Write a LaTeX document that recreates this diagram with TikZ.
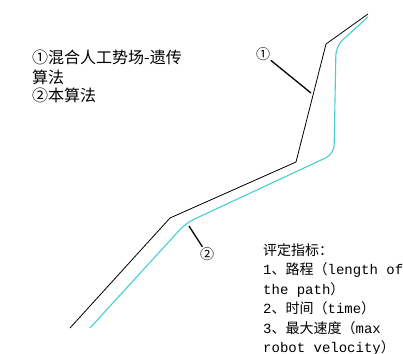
\documentclass[tikz,border=0pt]{standalone}
\usepackage{fontspec}
\newfontfamily\cjk{Noto Sans CJK SC}
\setmonofont{Liberation Mono}
\definecolor{pathcyan}{RGB}{70,208,205}
\begin{document}
\begin{tikzpicture}[x=1pt,y=-1pt,
  blackpath/.style={draw=black,line width=0.8pt,line join=round},
  cyanpath/.style={draw=pathcyan,line width=1.1pt,line join=round,rounded corners=9pt},
  leader/.style={draw=black,line width=1.3pt},
  numlabel/.style={font=\cjk\fontsize{14}{14}\selectfont,inner sep=0.5pt},
  lefttxt/.style={anchor=base west,inner sep=0,font=\cjk\fontsize{16}{19}\selectfont},
  righttxt/.style={anchor=base west,inner sep=0,font=\cjk\fontsize{14}{19}\selectfont}]
\useasboundingbox (0,0) rectangle (403,353);
% paths
\coordinate (b0) at (70,328);
\coordinate (b1) at (170,218);
\coordinate (b2) at (296,162);
\coordinate (b3) at (326,44);
\coordinate (b4) at (368,14);
\draw[blackpath] (b0) -- (b1) -- (b2) -- (b3) -- (b4);
\coordinate (c0) at (90,328);
\coordinate (c1) at (186,223);
\coordinate (c2) at (334,154);
\coordinate (c3) at (336,46);
\coordinate (c4) at (368,17);
\draw[cyanpath] (c0) -- (c1) -- (c2) -- (c3) -- (c4);
% labels
\node[numlabel] (n1) at (263,54) {①};
\node[numlabel] (n2) at (207,254) {②};
\coordinate (p1) at (311,93);
\coordinate (p2) at (189,226);
\draw[leader] (n1) -- (p1);
\draw[leader] (p2) -- (n2);
% left legend
\node[lefttxt] (l1) at (32,63) {①混合人工势场-遗传};
\node[lefttxt] (l2) at (32,83) {算法};
\node[lefttxt] (l3) at (32,101) {②本算法};
% right text
\node[righttxt] (r1) at (263,255) {评定指标：};
\node[righttxt] (r2) at (263,274) {\ttfamily 1\cjk 、路程（\ttfamily length of};
\node[righttxt] (r3) at (263,294) {\ttfamily the path\cjk ）};
\node[righttxt] (r4) at (263,313) {\ttfamily 2\cjk 、时间（\ttfamily time\cjk ）};
\node[righttxt] (r5) at (263,333) {\ttfamily 3\cjk 、最大速度（\ttfamily max};
\node[righttxt] (r6) at (263,352) {\ttfamily robot velocity\cjk ）};
\end{tikzpicture}
\end{document}
